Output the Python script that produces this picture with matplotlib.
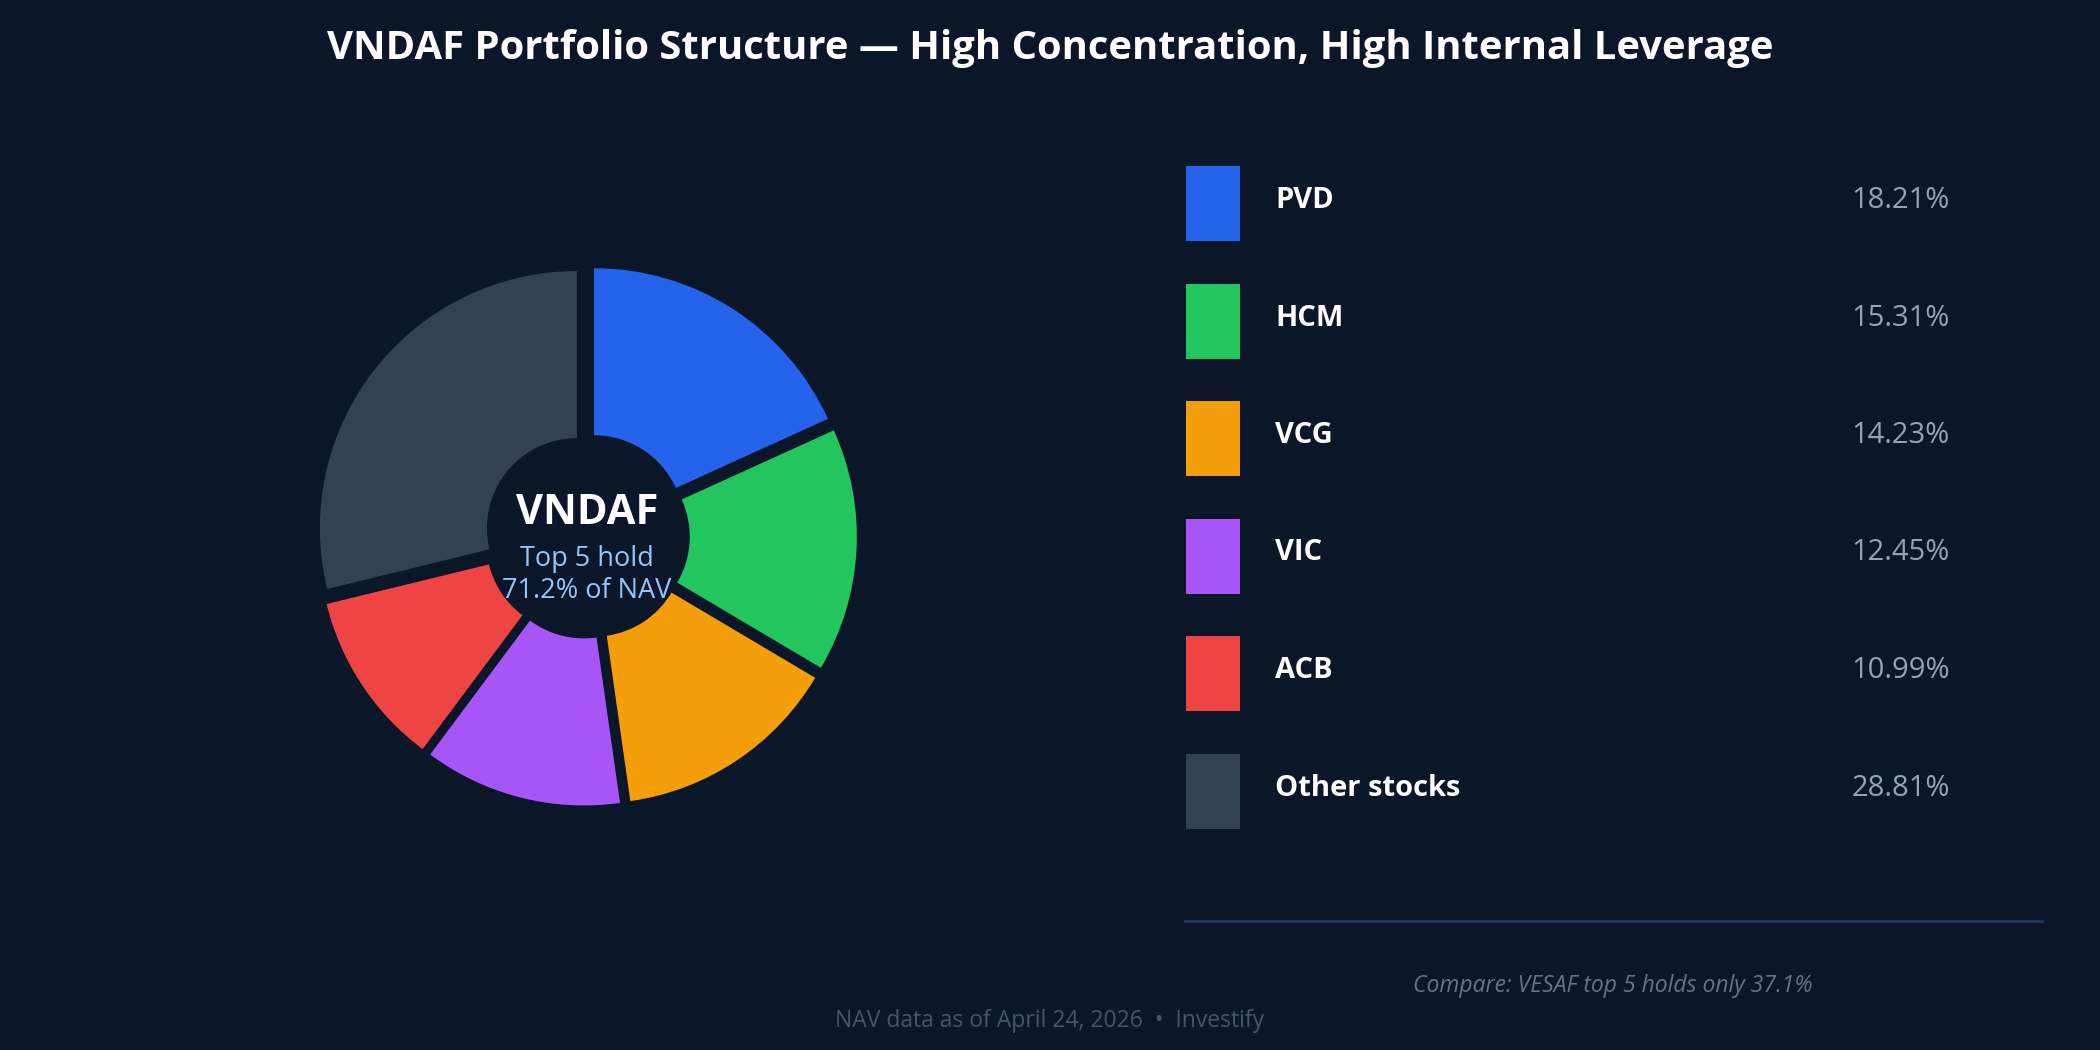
import matplotlib.pyplot as plt
from matplotlib.patches import Rectangle

plt.rcParams['font.family'] = ['Open Sans', 'Noto Sans', 'DejaVu Sans']

# data
names = ['PVD', 'HCM', 'VCG', 'VIC', 'ACB', 'Other stocks']
weights = [18.21, 15.31, 14.23, 12.45, 10.99, 28.81]
colors = ['#2563eb', '#22c55e', '#f59e0b', '#a855f7', '#ef4444', '#334155']
top5_share = 71.2
vesaf_top5 = 37.1

BG = '#0b1628'
W, H = 2100, 1050

fig = plt.figure(figsize=(W / 100, H / 100), dpi=100, facecolor=BG)

# donut, centre (587, 536) px, unit radius 257 px
cx, cy, R, S = 587, 536, 257, 300
ax = fig.add_axes([(cx - S) / W, (H - cy - S) / H, 2 * S / W, 2 * S / H])
ax.set_facecolor(BG)
ax.pie(weights, colors=colors, startangle=90, counterclock=False,
       explode=[0.05] * len(weights), radius=1.0,
       wedgeprops=dict(width=0.65, linewidth=0))
ax.set_xlim(-S / R, S / R)
ax.set_ylim(-S / R, S / R)
ax.set_aspect('equal')
ax.axis('off')

# overlay in pixel coordinates (y down)
ov = fig.add_axes([0, 0, 1, 1], facecolor='none')
ov.set_xlim(0, W)
ov.set_ylim(H, 0)
ov.axis('off')

ov.text(W / 2, 48, 'VNDAF Portfolio Structure \u2014 High Concentration, High Internal Leverage',
        color='white', fontsize=28.8, fontweight='bold', ha='center', va='center')

ov.text(cx, 513, 'VNDAF', color='white', fontsize=30, fontweight='bold',
        ha='center', va='center')
ov.text(cx, 559, 'Top 5 hold', color='#93c5fd', fontsize=19.5, ha='center', va='center')
ov.text(cx, 591, f'{top5_share}% of NAV', color='#93c5fd', fontsize=19.5,
        ha='center', va='center')

# legend rows
y0, dy = 203.5, 117.5
for i, (n, w, c) in enumerate(zip(names, weights, colors)):
    yc = y0 + i * dy
    ov.add_patch(Rectangle((1186, yc - 37.5), 54, 75, color=c, lw=0))
    ov.text(1275, yc - 3, n, color='white', fontsize=21, fontweight='bold',
            ha='left', va='center')
    ov.text(1950, yc - 3, f'{w:.2f}%', color='#94a3b8', fontsize=21,
            ha='right', va='center')

ov.plot([1185, 2042], [921, 921], color='#1e3a5f', lw=2)
ov.text(1613, 986, f'Compare: VESAF top 5 holds only {vesaf_top5}%', color='#64748b',
        fontsize=16.5, fontstyle='italic', ha='center', va='center')
ov.text(W / 2, 1021, 'NAV data as of April 24, 2026  \u2022  Investify', color='#475569',
        fontsize=16.5, ha='center', va='center')

fig.savefig('out.png', dpi=100, facecolor=BG)
